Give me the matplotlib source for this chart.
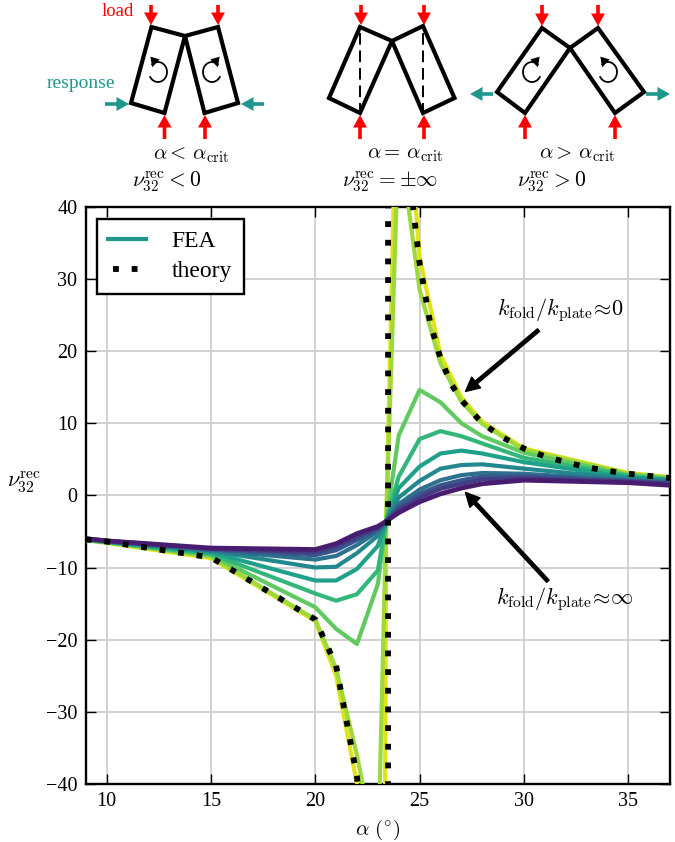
import numpy as np
import matplotlib
matplotlib.use('Agg')
import matplotlib.pyplot as plt

plt.rcParams['font.family'] = ['Liberation Serif']
plt.rcParams['mathtext.fontset'] = 'cm'

W, H = 675, 842

# FEA sweep, stiff -> soft
alpha = [9, 10, 15, 20, 21, 22, 23, 23.4, 24, 25, 26, 27, 28, 30, 35, 37]
nu_0 = [-6.0, -6.3, -7.3, -7.5, -6.7, -5.3, -4.3, -3.6, -2.4, -0.9, 0.2, 1.0, 1.6, 2.1, 1.75, 1.4]
nu_1 = [-6.0, -6.3, -7.4, -7.9, -7.1, -5.8, -4.5, -3.6, -2.0, -0.3, 0.9, 1.6, 2.2, 2.4, 1.9, 1.6]
nu_2 = [-6.0, -6.3, -7.5, -8.3, -7.6, -6.2, -4.7, -3.6, -1.6, 0.2, 1.4, 2.1, 2.6, 2.7, 2.0, 1.7]
nu_3 = [-6.0, -6.4, -7.6, -8.9, -8.4, -6.9, -5.0, -3.6, -1.2, 0.8, 2.1, 2.8, 3.1, 3.0, 2.1, 1.8]
nu_4 = [-6.1, -6.4, -7.7, -10.0, -9.9, -8.0, -5.6, -3.6, -0.3, 2.0, 3.7, 4.2, 4.3, 3.7, 2.3, 2.0]
nu_5 = [-6.1, -6.4, -7.9, -11.8, -11.8, -10.2, -7.0, -3.6, 1.0, 4.0, 5.8, 6.2, 5.8, 4.6, 2.5, 2.1]
nu_6 = [-6.1, -6.5, -8.1, -13.6, -14.6, -13.7, -10.4, -3.6, 2.6, 7.8, 8.9, 8.2, 7.2, 5.2, 2.7, 2.2]
nu_7 = [-6.2, -6.5, -8.3, -15.5, -18.5, -20.6, -12.3, -3.6, 8.3, 14.6, 12.9, 10.0, 8.2, 5.9, 2.8, 2.3]
nu_8 = [-6.2, -6.5, -8.5, -17.2, -24.0, -36.0, -51.0, -3.6, 50.0, 28.5, 18.3, 13.0, 9.9, 6.3, 3.0, 2.5]
nu_9 = [-6.2, -6.6, -8.7, -17.4, -25.0, -40.0, -300.0, -3.6, 71.0, 33.0, 19.5, 13.6, 10.2, 6.5, 3.1, 2.5]
fea = [nu_9, nu_8, nu_7, nu_6, nu_5, nu_4, nu_3, nu_2, nu_1, nu_0]

theory_alpha = [9, 10, 15, 20, 21, 22, 22.5, 23.49, 23.49, 24, 24.7, 25, 25.5, 26, 26.5, 27, 28, 29, 30, 31, 32, 33, 34, 35, 36, 37]
theory_nu = [-6.1, -6.4, -8.6, -17.2, -23.6, -39.0, -60.0, -500.0, 500.0, 100.0, 39.6, 32.2, 24.0, 19.0, 15.5, 13.2, 10.0, 8.0, 6.5, 5.4, 4.6, 3.9, 3.4, 3.0, 2.7, 2.4]

xticks = [10, 15, 20, 25, 30, 35]
yticks = [-40, -30, -20, -10, 0, 10, 20, 30, 40]

# sketches on top, pixel coordinates of the picture
sketch_blocks = [
    [(151.5, 27), (185, 36), (164.5, 113), (131, 103)],
    [(185, 36), (218, 27), (238, 103), (204.5, 113)],
    [(360, 27), (392, 41), (360, 113), (329, 98)],
    [(392, 41), (423, 26), (454.5, 98), (423, 113)],
    [(542, 28), (570, 48), (525, 113), (497, 92)],
    [(570, 48), (598, 28), (644, 92), (615, 113)],
]
load_arrows = [
    (151, 5, 151, 25), (218, 5, 218, 25), (164.5, 139, 164.5, 115), (205, 139, 205, 115),
    (361, 5, 361, 25), (424, 5, 424, 25), (360, 139, 360, 115), (424, 139, 424, 115),
    (542, 5, 542, 26), (598, 5, 598, 26), (525, 139, 525, 115), (615, 139, 615, 115),
]
response_arrows = [
    (105, 104, 129, 104), (264, 104, 241, 104),
    (493, 94, 470, 94), (646, 94, 670, 94),
]
dashed_lines = [(360, 33, 360, 112), (423, 33, 423, 112)]
# centre x, centre y, +1 anticlockwise on screen, -1 clockwise
rotations = [(158, 72, 1), (212, 72, -1), (532, 72, -1), (608, 72, 1)]
state_labels = [
    (191, 155, r'$\alpha <\, \alpha_{\rm crit}$'),
    (405, 155, r'$\alpha =\, \alpha_{\rm crit}$'),
    (577, 155, r'$\alpha >\, \alpha_{\rm crit}$'),
]
nu_labels = [
    (167, 182, r'$\nu_{32}^{\rm rec} < 0$'),
    (390, 182, r'$\nu_{32}^{\rm rec} =\pm\infty$'),
    (552, 182, r'$\nu_{32}^{\rm rec} > 0$'),
]

TEAL = '#1f968b'

fig = plt.figure(figsize=(W / 100, H / 100), dpi=100)
ax = fig.add_axes([85.7 / W, 1 - 784 / H, (670 - 85.7) / W, (784 - 206.7) / H])

colors = plt.cm.viridis(np.linspace(0.95, 0.08, len(fea)))
for i, nu in enumerate(fea):
    lw = 3.4 if i == len(fea) - 1 else 3.0
    ax.plot(alpha, nu, color=colors[i], lw=lw, solid_joinstyle='round', zorder=3 + i * 0.01)
ax.plot(theory_alpha, theory_nu, color='k', lw=4.2, ls=(0, (1, 2.2)), dash_capstyle='butt', zorder=4)

ax.set_xlim(9, 37)
ax.set_ylim(-40, 40)
ax.set_xticks(xticks)
ax.set_yticks(yticks)
ax.tick_params(direction='in', top=True, right=True, width=1.0, length=7, labelsize=14.5, pad=6)
ax.grid(True, color='#cfcfcf', lw=1.3)
ax.set_axisbelow(True)
for s in ax.spines.values():
    s.set_linewidth(1.7)

ax.set_xlabel(r'$\alpha\ (^{\circ})$', fontsize=15, labelpad=5)
ax.set_ylabel(r'$\nu_{32}^{\rm rec}$', fontsize=16, rotation=0, labelpad=16)

# legend handles, offset so that two dots show
line_fea = plt.Line2D([], [], color=TEAL, lw=3.0)
line_theory = plt.Line2D([], [], color='k', lw=4.2, ls=(2.34, (1, 2.2)), dash_capstyle='butt')
leg = ax.legend([line_fea, line_theory], ['FEA', 'theory'], loc='upper left',
                bbox_to_anchor=(0.0187, 0.9785), borderaxespad=0, fontsize=17, fancybox=False,
                framealpha=1, edgecolor='k', handlelength=1.57, handletextpad=1.1,
                borderpad=0.5, labelspacing=0.35)
leg.get_frame().set_linewidth(1.7)
leg.set_zorder(10)

ax.text(31.75, 25.7, r'$k_{\rm fold}/k_{\rm plate}\!\approx\!0$', fontsize=16,
        ha='center', va='center', zorder=11)
ax.annotate('', xy=(27.2, 14.4), xytext=(30.7, 22.9), zorder=11,
            arrowprops=dict(facecolor='k', edgecolor='k', width=2.4, headwidth=10, headlength=10, shrink=0))
ax.text(31.97, -14.3, r'$k_{\rm fold}/k_{\rm plate}\!\approx\!\infty$', fontsize=16,
        ha='center', va='center', zorder=11)
ax.annotate('', xy=(27.2, 0.4), xytext=(31.15, -11.9), zorder=11,
            arrowprops=dict(facecolor='k', edgecolor='k', width=2.4, headwidth=10, headlength=10, shrink=0))

# overlay for the sketches
top = fig.add_axes([0, 0, 1, 1], zorder=5)
top.set_xlim(0, W)
top.set_ylim(H, 0)
top.axis('off')
top.patch.set_visible(False)

for block in sketch_blocks:
    top.add_patch(plt.Polygon(block, closed=True, fill=False, edgecolor='k', lw=3.0, joinstyle='miter'))

for x0, y0, x1, y1 in dashed_lines:
    top.plot([x0, x1], [y0, y1], color='k', lw=1.4, ls=(0, (6, 3)))


def block_arrow(x0, y0, x1, y1, color):
    top.annotate('', xy=(x1, y1), xytext=(x0, y0), xycoords='data',
                 arrowprops=dict(facecolor=color, edgecolor=color, width=2.6, headwidth=10,
                                 headlength=9, shrink=0, lw=0))


for a in load_arrows:
    block_arrow(*a, 'red')
for a in response_arrows:
    block_arrow(*a, TEAL)

for cx, cy, sense in rotations:
    t = np.radians(np.linspace(150, -130, 40))
    px = cx + sense * 9 * np.cos(t)
    py = cy + 10 * np.sin(t)
    top.plot(px, py, color='k', lw=1.3)
    top.annotate('', xy=(px[-1], py[-1] + 3), xytext=(px[-3], py[-3] - 2),
                 arrowprops=dict(facecolor='k', edgecolor='k', width=0.3, headwidth=7, headlength=7, shrink=0, lw=0))

top.text(118, 12, 'load', color='red', fontsize=13.5, ha='center', va='center')
top.text(81, 83, 'response', color=TEAL, fontsize=14, ha='center', va='center')
for x, y, s in state_labels:
    top.text(x, y, s, fontsize=15, ha='center', va='center')
for x, y, s in nu_labels:
    top.text(x, y, s, fontsize=15.5, ha='center', va='center')

fig.savefig('out.png', dpi=100)
